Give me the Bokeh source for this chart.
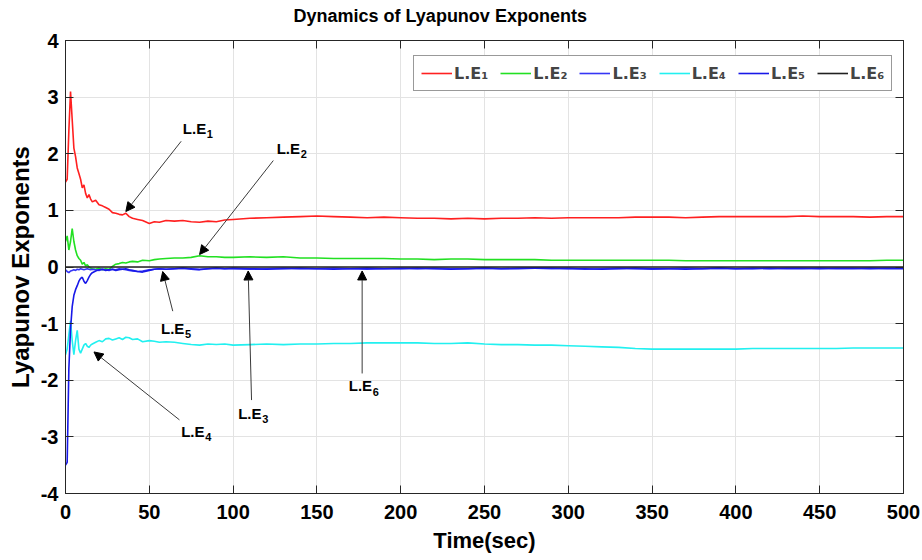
from bokeh.plotting import figure
from bokeh.models import (Range1d, LinearAxis, Legend, LegendItem, Label, Arrow,
                          NormalHead, FixedTicker, CustomLabelingPolicy)
from bokeh.embed import file_html
from bokeh.resources import INLINE

# ---------------- data ----------------
time = [0, 1, 2, 3, 4, 5, 6, 7, 8, 9, 10, 11, 12, 13, 14, 15, 16,
        18, 20, 22, 24, 26, 28, 30, 32, 34, 36, 38, 40,
        43, 46, 50, 53, 56, 60,
        65, 70, 75, 80, 85, 90, 95,
        100, 110, 120, 130, 140, 150, 160, 170, 180, 190, 200,
        210, 220, 230, 240, 250, 260, 270, 280, 290, 300,
        310, 320, 330, 340, 350, 360, 370, 380, 390, 400,
        410, 420, 430, 440, 450, 460, 470, 480, 490, 500]

le1 = [1.50, 1.55, 2.40, 3.10, 2.60, 2.10, 1.95, 1.75, 1.65, 1.55, 1.40, 1.45, 1.30, 1.22, 1.28, 1.20, 1.15,
       1.18, 1.10, 1.08, 1.05, 1.02, 0.96, 0.95, 0.93, 0.92, 0.95, 0.89, 0.86,
       0.84, 0.82, 0.77, 0.80, 0.79, 0.82,
       0.81, 0.82, 0.80, 0.79, 0.81, 0.80, 0.83,
       0.84, 0.86, 0.87, 0.88, 0.89, 0.90, 0.89, 0.88, 0.87, 0.88, 0.87,
       0.86, 0.86, 0.85, 0.86, 0.85, 0.86, 0.86, 0.87, 0.86, 0.87,
       0.87, 0.87, 0.87, 0.88, 0.88, 0.88, 0.87, 0.88, 0.89, 0.89,
       0.89, 0.89, 0.89, 0.90, 0.89, 0.89, 0.89, 0.88, 0.89, 0.89]

le2 = [0.45, 0.55, 0.30, 0.45, 0.68, 0.45, 0.30, 0.20, 0.15, 0.12, 0.05, 0.08, 0.02, 0.04, 0.00, -0.02, -0.03,
       -0.04, -0.02, -0.05, -0.03, -0.04, 0.01, 0.05, 0.06, 0.08, 0.07, 0.09, 0.10,
       0.09, 0.12, 0.11, 0.13, 0.14, 0.15,
       0.16, 0.16, 0.17, 0.20, 0.18, 0.18, 0.17,
       0.17, 0.18, 0.17, 0.18, 0.16, 0.16, 0.15, 0.15, 0.15, 0.15, 0.14,
       0.14, 0.13, 0.14, 0.14, 0.13, 0.13, 0.13, 0.13, 0.12, 0.12,
       0.12, 0.12, 0.12, 0.12, 0.12, 0.12, 0.11, 0.11, 0.11, 0.11,
       0.11, 0.11, 0.11, 0.11, 0.11, 0.11, 0.11, 0.11, 0.12, 0.12]

le3 = [-0.05, -0.08, -0.10, -0.07, -0.06, -0.05, -0.06, -0.04, -0.05, -0.03, -0.04, -0.05, -0.04, -0.03, -0.04, -0.05, -0.04,
       -0.05, -0.06, -0.04, -0.05, -0.06, -0.04, -0.05, -0.03, -0.04, -0.05, -0.06, -0.07,
       -0.08, -0.07, -0.05, -0.04, -0.03, -0.04,
       -0.03, -0.02, -0.04, -0.05, -0.03, -0.02, -0.03,
       -0.03, -0.04, -0.03, -0.02, -0.03, -0.03, -0.02, -0.03, -0.04, -0.03, -0.02,
       -0.03, -0.02, -0.03, -0.03, -0.02, -0.03, -0.02, -0.02, -0.03, -0.02,
       -0.04, -0.03, -0.02, -0.03, -0.04, -0.03, -0.02, -0.03, -0.02, -0.03,
       -0.02, -0.03, -0.02, -0.02, -0.03, -0.02, -0.02, -0.03, -0.02, -0.02]

le4 = [-1.55, -1.45, -1.20, -0.95, -1.30, -1.55, -1.30, -1.12, -1.45, -1.52, -1.45, -1.38, -1.35, -1.40, -1.42, -1.38, -1.36,
       -1.33, -1.30, -1.32, -1.27, -1.26, -1.29, -1.27, -1.25, -1.28, -1.24, -1.25, -1.28,
       -1.27, -1.32, -1.30, -1.31, -1.33, -1.32,
       -1.33, -1.35, -1.37, -1.38, -1.36, -1.37, -1.36,
       -1.38, -1.37, -1.36, -1.37, -1.36, -1.36, -1.35, -1.35, -1.34, -1.34, -1.34,
       -1.34, -1.35, -1.35, -1.34, -1.36, -1.37, -1.37, -1.38, -1.38, -1.39,
       -1.40, -1.41, -1.42, -1.44, -1.45, -1.45, -1.45, -1.45, -1.45, -1.45,
       -1.44, -1.44, -1.44, -1.44, -1.44, -1.44, -1.43, -1.43, -1.43, -1.43]

le5 = [-3.50, -3.45, -1.80, -1.10, -0.70, -0.50, -0.40, -0.33, -0.25, -0.20, -0.18, -0.25, -0.29, -0.24, -0.18, -0.13, -0.10,
       -0.07, -0.05, -0.04, -0.06, -0.05, -0.04, -0.06, -0.05, -0.04, -0.03, -0.05, -0.06,
       -0.08, -0.09, -0.06, -0.04, -0.03, -0.04,
       -0.03, -0.02, -0.03, -0.04, -0.03, -0.02, -0.03,
       -0.02, -0.03, -0.04, -0.03, -0.02, -0.03, -0.04, -0.03, -0.02, -0.03, -0.03,
       -0.02, -0.03, -0.04, -0.03, -0.02, -0.03, -0.03, -0.02, -0.02, -0.03,
       -0.03, -0.04, -0.03, -0.02, -0.03, -0.03, -0.04, -0.03, -0.02, -0.03,
       -0.03, -0.02, -0.03, -0.03, -0.02, -0.03, -0.03, -0.02, -0.03, -0.03]

le6 = [0.0] * len(time)

x_ticks = [0, 50, 100, 150, 200, 250, 300, 350, 400, 450, 500]
y_ticks = [-4, -3, -2, -1, 0, 1, 2, 3, 4]
y_tick_labels = ["-4", "-3", "-2", "-1", "0", "1", "2", "3", "4"]

series_names = ["L.E\u2081", "L.E\u2082", "L.E\u2083", "L.E\u2084", "L.E\u2085", "L.E\u2086"]
series_colors = ["#ff2020", "#22e022", "#3535f5", "#22f0f0", "#1818e8", "#202020"]

FONT = "Liberation Sans"
AX = "#262626"

p = figure(width=922, height=560, x_range=Range1d(0, 500), y_range=Range1d(-4, 4),
           output_backend="svg", toolbar_location=None,
           min_border_left=65, min_border_right=19, min_border_top=40, min_border_bottom=67,
           title="Dynamics of Lyapunov Exponents")
p.title.align = "left"
p.title.offset = 228
p.title.text_font = FONT
p.title.text_font_size = "18px"
p.title.text_font_style = "bold"
p.title.text_color = "black"
p.title.standoff = 7

p.xaxis.ticker = FixedTicker(ticks=x_ticks)
p.yaxis.ticker = FixedTicker(ticks=y_ticks)
p.yaxis.major_label_overrides = dict(zip(y_ticks, y_tick_labels))
p.xaxis.axis_label = "Time(sec)"
p.yaxis.axis_label = "Lyapunov Exponents"
for ax in (p.xaxis[0], p.yaxis[0]):
    ax.axis_label_text_font = FONT
    ax.axis_label_text_font_style = "bold"
    ax.axis_label_text_color = "black"
    ax.major_label_text_font = FONT
    ax.major_label_text_font_size = "20px"
    ax.major_label_text_font_style = "bold"
    ax.major_label_text_color = "black"
    ax.major_tick_in = 8
    ax.major_tick_out = 0
    ax.minor_tick_line_color = None
    ax.axis_line_color = AX
    ax.major_tick_line_color = AX
p.xaxis.axis_label_text_font_size = "22px"
p.yaxis.axis_label_text_font_size = "24px"
p.xaxis.major_label_standoff = 11
p.yaxis.major_label_standoff = 7
p.xaxis.axis_label_standoff = 6
p.yaxis.axis_label_standoff = 4

top_ax = LinearAxis(ticker=FixedTicker(ticks=x_ticks),
                    major_label_policy=CustomLabelingPolicy(code="return []"),
                    major_tick_in=8, major_tick_out=0, minor_tick_line_color=None,
                    axis_line_color=AX, major_tick_line_color=AX, major_label_standoff=0)
right_ax = LinearAxis(ticker=FixedTicker(ticks=y_ticks),
                      major_label_policy=CustomLabelingPolicy(code="return []"),
                      major_tick_in=8, major_tick_out=0, minor_tick_line_color=None,
                      axis_line_color=AX, major_tick_line_color=AX, major_label_standoff=0)
p.add_layout(top_ax, "above")
p.add_layout(right_ax, "right")

p.xgrid.grid_line_color = "#e3e3e3"
p.ygrid.grid_line_color = "#e3e3e3"
p.outline_line_color = AX

renderers = []
for ys, c in zip([le1, le2, le3, le4, le5, le6], series_colors):
    renderers.append(p.line(time, ys, line_color=c, line_width=1.6))

items = [LegendItem(label=n, renderers=[r]) for n, r in zip(series_names, renderers)]
legend = Legend(items=items, orientation="horizontal", location=(348, 402),
                label_text_font="DejaVu Sans", label_text_font_size="16px",
                label_text_font_style="bold",
                glyph_width=31, glyph_height=20, label_standoff=2, spacing=12,
                padding=7, margin=0, border_line_color="#333333", border_line_width=1,
                background_fill_alpha=1)
p.add_layout(legend, "center")

# ---------------- annotations ----------------
ann = [
    # (label, sub, text_x, text_y, tail_x, tail_y, head_x, head_y)
    ("L.E", "1", 70, 2.45, 69, 2.22, 36, 0.98),
    ("L.E", "2", 126, 2.10, 124, 1.88, 80, 0.22),
    ("L.E", "5", 57, -1.08, 64, -0.78, 58, -0.08),
    ("L.E", "3", 103, -2.58, 111, -2.35, 109, -0.07),
    ("L.E", "6", 169, -2.10, 177, -1.88, 177, -0.07),
    ("L.E", "4", 69, -2.90, 68, -2.70, 17, -1.50),
]
for lab, sub, tx, ty, x0, y0, x1, y1 in ann:
    p.add_layout(Arrow(end=NormalHead(size=9, fill_color="black", line_color="black"),
                       x_start=x0, y_start=y0, x_end=x1, y_end=y1,
                       line_color="#3a3a3a", line_width=1))
    p.add_layout(Label(x=tx, y=ty, text=lab, text_font=FONT, text_font_size="15px",
                       text_font_style="bold", text_color="black",
                       text_baseline="middle", text_align="left"))
    p.add_layout(Label(x=tx, y=ty, x_offset=24, y_offset=-6, text=sub, text_font=FONT,
                       text_font_size="11px", text_font_style="bold", text_color="black",
                       text_baseline="middle", text_align="left"))

open("out.html", "w").write(file_html(p, INLINE))
